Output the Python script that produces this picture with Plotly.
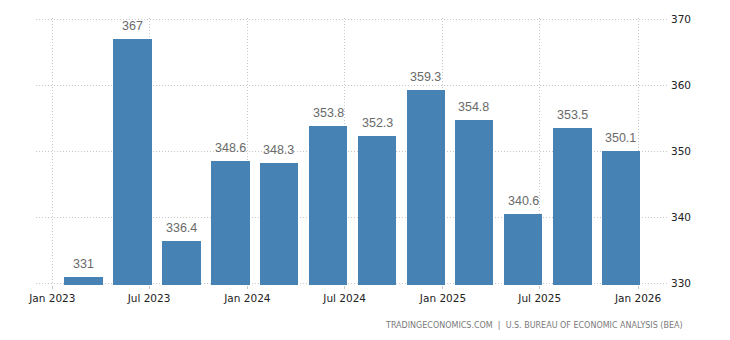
import plotly.graph_objects as go

# Quarterly values, placed at the last day of each quarter's middle month
periods = ["2023-02-28", "2023-05-31", "2023-08-31", "2023-11-30",
           "2024-02-29", "2024-05-31", "2024-08-31", "2024-11-30",
           "2025-02-28", "2025-05-31", "2025-08-31", "2025-11-30"]
values = [331, 367, 336.4, 348.6, 348.3, 353.8, 352.3, 359.3, 354.8, 340.6, 353.5, 350.1]

y_ticks = [330, 340, 350, 360, 370]
source_text = "TRADINGECONOMICS.COM  |  U.S. BUREAU OF ECONOMIC ANALYSIS (BEA)"

BAR_COLOR = "#4682b4"
GRID_COLOR = "#c8c8c8"
DAY_MS = 86400000

fig = go.Figure()
fig.add_trace(go.Bar(
    x=periods,
    y=values,
    width=[72 * DAY_MS] * len(values),
    marker=dict(color=BAR_COLOR, line=dict(width=0)),
    hoverinfo="x+y",
))

# value labels above each bar
annotations = []
for p, v in zip(periods, values):
    annotations.append(dict(
        x=p, y=v, xref="x", yref="y",
        text=f"{v:g}",
        showarrow=False,
        yanchor="middle", yshift=13,
        font=dict(family="Liberation Sans Narrow, Liberation Sans, Arial", size=12.5, color="#6a6a6a"),
    ))

annotations.append(dict(
    x=1.027, y=-0.15, xref="paper", yref="paper",
    text=source_text, showarrow=False,
    xanchor="right", yanchor="middle",
    font=dict(family="DejaVu Sans", size=8, color="#7a7a7a"),
))

fig.update_layout(
    width=730, height=340,
    margin=dict(l=36, r=62, t=18, b=55, pad=0),
    paper_bgcolor="white", plot_bgcolor="white",
    showlegend=False,
    bargap=0,
    annotations=annotations,
    font=dict(family="DejaVu Sans", size=10.5, color="#222222"),
)

fig.update_xaxes(
    type="date",
    range=["2022-12-01 12:00", "2026-02-26"],
    tick0="2023-01-01", dtick="M6", tickformat="%b %Y",
    showgrid=True, gridcolor=GRID_COLOR, gridwidth=1, griddash="1px,2px",
    ticks="outside", ticklen=3, tickcolor=GRID_COLOR, tickwidth=1,
    showline=False, zeroline=False,
    tickfont=dict(family="DejaVu Sans", size=10.5, color="#222222"),
)

# small padding keeps the 330 and 370 gridlines inside the plot area
fig.update_yaxes(
    side="right",
    range=[329.8, 370.2],
    tickvals=y_ticks,
    showgrid=True, gridcolor=GRID_COLOR, gridwidth=1, griddash="1px,2px",
    ticks="", showline=False, zeroline=False,
    ticklabelstandoff=2,
    tickfont=dict(family="DejaVu Sans", size=10.5, color="#222222"),
)

fig.write_html("out.html")
